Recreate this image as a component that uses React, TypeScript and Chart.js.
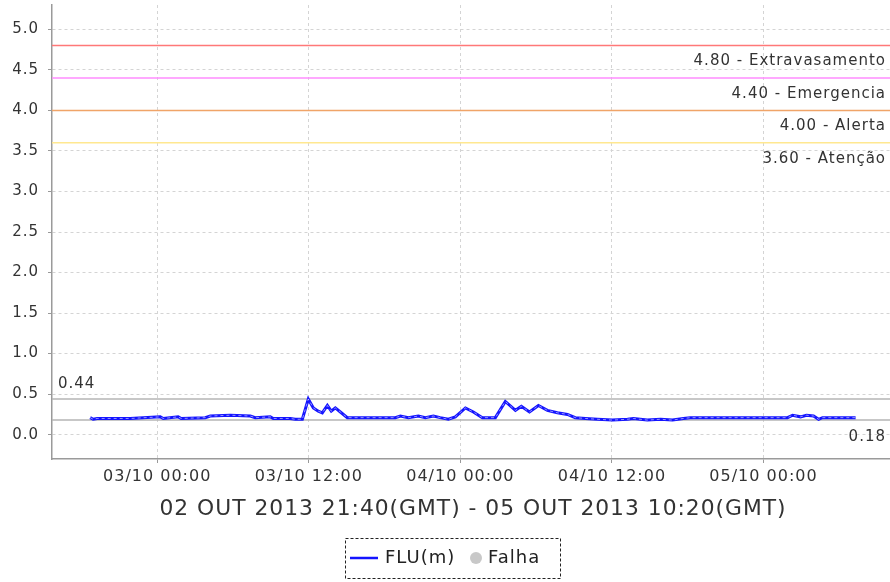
import React, { useEffect, useRef } from 'react';
import { Chart, registerables } from 'chart.js';

Chart.register(...registerables);

// Time in hours relative to 03/10/2013 00:00 (local time)
const flowHours = [
  -5.31, -5.07, -4.75, -2.14, 0.24, 0.48, 1.66, 1.9, 3.8, 4.2, 5.78, 7.37, 7.76, 8.95, 9.19,
  10.53, 10.93, 11.49, 11.96, 12.36, 12.75, 13.07, 13.47, 13.78, 14.1, 14.5, 15.05, 18.85,
  19.25, 19.88, 20.67, 21.23, 21.86, 22.4, 23.05, 23.6, 24.4, 25.03, 25.74, 26.77, 27.56,
  28.36, 28.83, 29.47, 30.18, 30.89, 31.68, 32.48, 33.1, 33.9, 34.85, 36.04, 37.23, 37.7,
  38.8, 39.84, 40.79, 41.66, 42.2, 49.9, 50.3, 50.93, 51.4, 51.96, 52.36, 52.67, 55.29,
];
const flowValues = [
  0.21, 0.19, 0.2, 0.2, 0.22, 0.2, 0.22, 0.2, 0.21, 0.23, 0.24, 0.23, 0.21, 0.22, 0.2,
  0.2, 0.19, 0.19, 0.44, 0.33, 0.29, 0.27, 0.36, 0.29, 0.33, 0.28, 0.21, 0.21,
  0.23, 0.21, 0.23, 0.21, 0.23, 0.21, 0.19, 0.22, 0.33, 0.28, 0.21, 0.21, 0.41,
  0.3, 0.35, 0.28, 0.36, 0.3, 0.27, 0.25, 0.21, 0.2, 0.19, 0.18, 0.19, 0.2,
  0.18, 0.19, 0.18, 0.2, 0.21, 0.21, 0.24, 0.22, 0.24, 0.23, 0.19, 0.21, 0.21,
];

const xTickHours = [0, 12, 24, 36, 48];
const xTickLabels = ['03/10 00:00', '03/10 12:00', '04/10 00:00', '04/10 12:00', '05/10 00:00'];
const yTickValues = [0, 0.5, 1, 1.5, 2, 2.5, 3, 3.5, 4, 4.5, 5];

const thresholdValues = [4.8, 4.4, 4.0, 3.6];
const thresholdNames = ['Extravasamento', 'Emergencia', 'Alerta', 'Atenção'];
const thresholdColors = ['#ff7878', '#ff8cff', '#f0a468', '#ffe890'];

const maxLevel = 0.44;
const minLevel = 0.18;

const axisTitle = '02 OUT 2013 21:40(GMT) - 05 OUT 2013 10:20(GMT)';
const seriesName = 'FLU(m)';
const failName = 'Falha';

const FONT = '"DejaVu Sans", sans-serif';

const spacingPlugin = {
  id: 'spacing',
  beforeLayout(chart: any) {
    chart.ctx.letterSpacing = '1px';
  },
  beforeDraw(chart: any) {
    chart.ctx.letterSpacing = '1px';
  },
};

const linesPlugin = {
  id: 'levelLines',
  beforeDatasetsDraw(chart: any) {
    const { ctx, chartArea } = chart;
    const y = chart.scales.y;
    ctx.save();
    ctx.beginPath();
    ctx.rect(chartArea.left, chartArea.top, chartArea.right - chartArea.left, chartArea.bottom - chartArea.top);
    ctx.clip();
    thresholdValues.forEach((v, i) => {
      const py = y.getPixelForValue(v);
      ctx.strokeStyle = thresholdColors[i];
      ctx.lineWidth = 1.5;
      ctx.beginPath();
      ctx.moveTo(chartArea.left, py);
      ctx.lineTo(chartArea.right, py);
      ctx.stroke();
    });
    [maxLevel, minLevel].forEach((v) => {
      const py = y.getPixelForValue(v);
      ctx.strokeStyle = '#b4b4b4';
      ctx.lineWidth = 1.5;
      ctx.beginPath();
      ctx.moveTo(chartArea.left, py);
      ctx.lineTo(chartArea.right, py);
      ctx.stroke();
    });
    ctx.restore();
  },
  afterDatasetsDraw(chart: any) {
    const { ctx, chartArea } = chart;
    const y = chart.scales.y;
    // light dotted core on the series line (marker look)
    const pts = chart.getDatasetMeta(0).data;
    if (pts.length) {
      ctx.save();
      ctx.strokeStyle = 'rgba(255,255,255,0.55)';
      ctx.lineWidth = 1;
      ctx.setLineDash([3, 3]);
      ctx.beginPath();
      pts.forEach((p: any, i: number) => (i ? ctx.lineTo(p.x, p.y) : ctx.moveTo(p.x, p.y)));
      ctx.stroke();
      ctx.restore();
    }
    ctx.save();
    ctx.letterSpacing = '1px';
    ctx.font = `15px ${FONT}`;
    ctx.fillStyle = '#333';
    ctx.textBaseline = 'middle';
    ctx.textAlign = 'right';
    const rightX = 886;
    thresholdValues.forEach((v, i) => {
      const py = y.getPixelForValue(v);
      ctx.fillText(`${v.toFixed(2)} - ${thresholdNames[i]}`, rightX, py + 16);
    });
    ctx.fillText(minLevel.toFixed(2), rightX, y.getPixelForValue(minLevel) + 17);
    ctx.textAlign = 'left';
    ctx.fillText(maxLevel.toFixed(2), chartArea.left + 6, y.getPixelForValue(maxLevel) - 15);
    ctx.restore();
  },
  afterDraw(chart: any) {
    const { ctx } = chart;
    ctx.save();
    ctx.letterSpacing = '1px';
    const bx = 345, by = 538, bw = 215, bh = 40;
    const cy = by + bh / 2;
    ctx.setLineDash([3, 2]);
    ctx.strokeStyle = '#222';
    ctx.lineWidth = 1;
    ctx.strokeRect(bx + 0.5, by + 0.5, bw, bh);
    ctx.setLineDash([]);
    ctx.strokeStyle = chart.data.datasets[0].borderColor;
    ctx.lineWidth = 2.5;
    ctx.beginPath();
    ctx.moveTo(bx + 5, cy);
    ctx.lineTo(bx + 33, cy);
    ctx.stroke();
    ctx.font = `18px ${FONT}`;
    ctx.fillStyle = '#222';
    ctx.textBaseline = 'middle';
    ctx.textAlign = 'left';
    ctx.fillText(chart.data.datasets[0].label, bx + 40, cy);
    ctx.fillStyle = chart.data.datasets[1].backgroundColor;
    ctx.beginPath();
    ctx.arc(bx + 131, cy, 6, 0, Math.PI * 2);
    ctx.fill();
    ctx.fillStyle = '#222';
    ctx.fillText(chart.data.datasets[1].label, bx + 143, cy);
    ctx.restore();
  },
};

export default function App() {
  const ref = useRef<HTMLCanvasElement>(null);

  useEffect(() => {
    if (!ref.current) return;
    const chart = new Chart(ref.current, {
      type: 'line',
      data: {
        datasets: [
          {
            label: seriesName,
            data: flowHours.map((h, i) => ({ x: h, y: flowValues[i] })),
            borderColor: 'rgb(20,20,255)',
            backgroundColor: 'rgb(20,20,255)',
            borderWidth: 3,
            pointRadius: 0,
            tension: 0,
          },
          {
            label: failName,
            data: [],
            borderColor: '#c8c8c8',
            backgroundColor: '#c8c8c8',
            showLine: false,
            pointRadius: 5,
          },
        ],
      },
      options: {
        animation: false,
        responsive: false,
        devicePixelRatio: 1,
        layout: { padding: { top: 5, left: 0, right: 0, bottom: 0 } },
        plugins: {
          legend: { display: false },
          tooltip: { enabled: false },
        },
        scales: {
          x: {
            type: 'linear',
            min: -8.33,
            max: 58.33,
            afterBuildTicks(scale: any) {
              scale.ticks = xTickHours.map((v) => ({ value: v }));
            },
            afterFit(scale: any) {
              scale.height = 123;
              scale.paddingLeft = 0;
              scale.paddingRight = 0;
            },
            ticks: {
              autoSkip: false,
              maxRotation: 0,
              padding: 4,
              color: '#333',
              font: { family: FONT, size: 16 },
              callback: (v: any) => {
                const i = xTickHours.indexOf(Number(v));
                return i >= 0 ? xTickLabels[i] : '';
              },
            },
            grid: {
              color: '#d4d4d4',
              lineWidth: 1,
              tickLength: 4,
              tickColor: '#999',
            },
            border: { display: true, color: '#9a9a9a', width: 1.5, dash: [3, 3] },
            title: {
              display: true,
              text: axisTitle,
              color: '#333',
              font: { family: FONT, size: 21.8 },
              padding: { top: 0, bottom: 60 },
            },
          },
          y: {
            type: 'linear',
            min: -0.3,
            max: 5.3,
            afterBuildTicks(scale: any) {
              scale.ticks = yTickValues.map((v) => ({ value: v }));
            },
            afterFit(scale: any) {
              scale.width = 52;
              scale.paddingTop = 0;
              scale.paddingBottom = 0;
            },
            ticks: {
              padding: 9,
              color: '#333',
              font: { family: FONT, size: 15 },
              callback: (v: any) => Number(v).toFixed(1),
            },
            grid: {
              color: '#d4d4d4',
              lineWidth: 1,
              tickLength: 4,
              tickColor: '#999',
            },
            border: { display: true, color: '#9a9a9a', width: 1.5, dash: [3, 3] },
          },
        },
      },
      plugins: [spacingPlugin, linesPlugin],
    } as any);
    return () => chart.destroy();
  }, []);

  return (
    <div style={{ position: 'fixed', left: 0, top: 0, width: 890, height: 582, overflow: 'hidden', background: '#fff' }}>
      <canvas ref={ref} width={894} height={582} style={{ display: 'block', width: 894, height: 582 }} />
    </div>
  );
}
